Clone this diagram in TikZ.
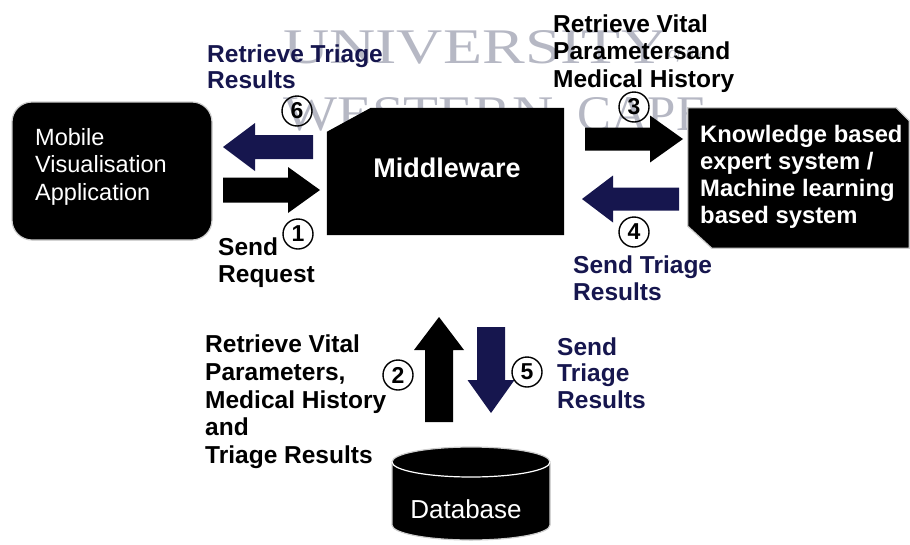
\documentclass[tikz,border=0pt]{standalone}
\usepackage{fontspec}
\setmainfont{Liberation Sans}
\newfontfamily\wmfont{Liberation Serif}
\usetikzlibrary{calc}
\definecolor{navy}{RGB}{22,22,78}
\definecolor{wmgray}{RGB}{182,184,196}
\definecolor{rim}{RGB}{205,205,205}

% block arrow: style, tail coordinate, tip coordinate, tail half-width, head half-width, head length
\newcommand\blockarrow[6]{%
  \coordinate (bahb) at ($(#3)!#6!(#2)$);
  \fill[#1] ($(#2)!#4!90:(#3)$) -- ($(bahb)!#4!90:(#3)$) -- ($(bahb)!#5!90:(#3)$) -- (#3)
    -- ($(bahb)!#5!-90:(#3)$) -- ($(bahb)!#4!-90:(#3)$) -- ($(#2)!#4!-90:(#3)$) -- cycle;}

\begin{document}
\begin{tikzpicture}[x=1pt,y=-1pt,
  lbl/.style={anchor=north west, inner sep=0pt, align=left,
    font=\fontsize{24.5}{27.5}\selectfont\bfseries},
  boxtext/.style={inner sep=0pt, text=white, align=left},
  num/.style={circle, draw, line width=1.4pt, minimum size=30pt, inner sep=0pt,
    font=\fontsize{23}{23}\selectfont\bfseries},
  edge/.style={draw=rim, line width=1.2pt}]
\useasboundingbox (0,0) rectangle (910,544);

% faint institutional watermark behind the diagram
\node[anchor=base west, inner sep=0pt, text=wmgray] (wmA) at (283,63) {\resizebox{384pt}{33pt}{\wmfont UNIVERSITY}};
\node[anchor=base west, inner sep=0pt, text=wmgray, font=\wmfont\itshape\fontsize{17}{17}\selectfont] (wmB) at (668,58) {of the};
\node[anchor=base west, inner sep=0pt, text=wmgray] (wmC) at (283,130) {\resizebox{270pt}{33pt}{\wmfont WESTERN}};
\node[anchor=base west, inner sep=0pt, text=wmgray] (wmD) at (577,130) {\resizebox{130pt}{33pt}{\wmfont CAPE}};

% components
\node[fill=black, edge, rounded corners=20pt, minimum width=200pt, minimum height=138pt, inner sep=0pt] (mobile) at (112,171) {};
\node[boxtext, anchor=north west, font=\fontsize{23.5}{27.5}\selectfont] (mobiletxt) at (35,128) {Mobile\\Visualisation\\Application};

\node[minimum width=237pt, minimum height=127pt, inner sep=0pt] (mw) at (445.5,171.5) {};
\fill[black] ($(mw.north west)+(0,24)$) -- ($(mw.north west)+(44,0)$) -- (mw.north east)
  -- (mw.south east) -- (mw.south west) -- cycle;
\node[boxtext, anchor=base, font=\fontsize{27}{27}\selectfont\bfseries] (mwtxt) at (447,177) {Middleware};

\node[minimum width=221pt, minimum height=140pt, inner sep=0pt] (kb) at (798.5,178) {};
\filldraw[fill=black, edge] (kb.north west) -- ($(kb.north east)+(-13,0)$) -- ($(kb.north east)+(0,13)$)
  -- (kb.south east) -- ($(kb.south west)+(24,0)$) -- ($(kb.south west)+(0,-22)$) -- cycle;
\node[boxtext, anchor=north west, font=\fontsize{23.8}{27}\selectfont\bfseries] (kbtxt) at (700,125)
  {Knowledge based\\expert system /\\Machine learning\\based system};

\node[minimum width=158pt, minimum height=93pt, inner sep=0pt] (db) at (471,493.5) {};
\filldraw[fill=black, edge] (392,462) -- (392,525) arc[start angle=180, end angle=360, x radius=79pt, y radius=15pt]
  -- (550,462) arc[start angle=0, end angle=180, x radius=79pt, y radius=15pt] -- cycle;
\draw[white, line width=1.2pt] (392,462) arc[start angle=180, end angle=360, x radius=79pt, y radius=15pt];
\node[boxtext, anchor=base, font=\fontsize{26}{26}\selectfont] (dbtxt) at (466,518) {Database};

% message arrows between the components
\coordinate (a1s) at (223,190);  \coordinate (a1e) at (320,190);
\coordinate (a6s) at (313,147);  \coordinate (a6e) at (223,147);
\coordinate (a3s) at (585,139);  \coordinate (a3e) at (683,139);
\coordinate (a4s) at (679,199);  \coordinate (a4e) at (582,199);
\coordinate (a2s) at (439,422);  \coordinate (a2e) at (439,317);
\coordinate (a5s) at (491,327);  \coordinate (a5e) at (491,413);
\blockarrow{black}{a1s}{a1e}{12.5pt}{23pt}{32pt}
\blockarrow{navy}{a6s}{a6e}{12pt}{24pt}{32pt}
\blockarrow{black}{a3s}{a3e}{11.5pt}{23.5pt}{33pt}
\blockarrow{navy}{a4s}{a4e}{11.5pt}{23.5pt}{31pt}
\blockarrow{black}{a2s}{a2e}{14pt}{25pt}{33pt}
\blockarrow{navy}{a5s}{a5e}{14pt}{23.5pt}{33pt}

% step numbers
\node[num] (n1) at (298,234) {1};
\node[num] (n2) at (398,375) {2};
\node[num] (n3) at (634,107) {3};
\node[num] (n4) at (634,232) {4};
\node[num] (n5) at (527,372) {5};
\node[num] (n6) at (297,111) {6};

% message labels
\node[lbl, text=navy, font=\fontsize{24.5}{26.5}\selectfont\bfseries] (l6) at (207,44.5) {Retrieve Triage\\Results};
\node[lbl, font=\fontsize{24.5}{27}\selectfont\bfseries] (l1) at (218,237.5) {Send\\Request};
\node[lbl] (l3) at (553,14.5) {Retrieve Vital\\Parametersand\\Medical History};
\node[lbl, text=navy, font=\fontsize{24.5}{27}\selectfont\bfseries] (l4) at (573,255.5) {Send Triage\\Results};
\node[lbl, font=\fontsize{24.5}{27.8}\selectfont\bfseries] (l2) at (205,334.5)
  {Retrieve Vital\\Parameters,\\Medical History\\and\\Triage Results};
\node[lbl, text=navy, font=\fontsize{24.5}{26.5}\selectfont\bfseries] (l5) at (557,337.5) {Send\\Triage\\Results};
\end{tikzpicture}
\end{document}
